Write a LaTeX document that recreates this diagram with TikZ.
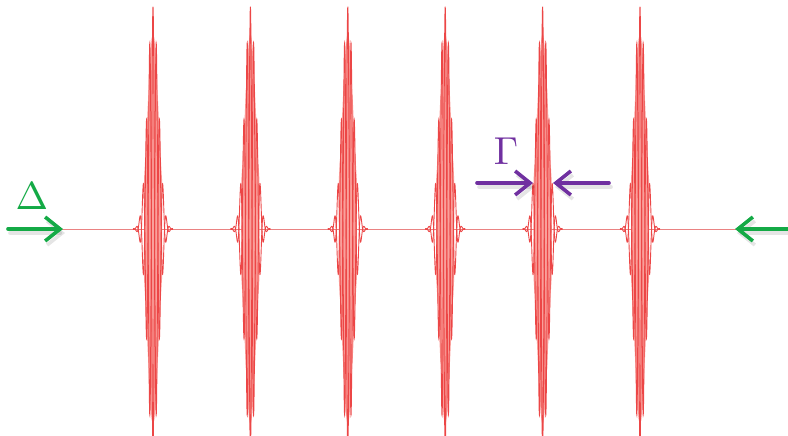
\documentclass[tikz,border=0pt]{standalone}
\usetikzlibrary{arrows.meta}
\definecolor{pulsered}{RGB}{236,70,70}
\definecolor{pulsefill}{RGB}{250,160,155}
\definecolor{basepink}{RGB}{234,130,130}
\definecolor{arrowgreen}{RGB}{20,170,70}
\definecolor{arrowpurple}{RGB}{112,48,160}
\tikzset{
  pulse/.style={draw=pulsered, line width=0.9pt},
  envfill/.style={fill=pulsefill, draw=none},
  baseline/.style={draw=basepink, line width=1pt},
  bigarrow/.style={line width=3.6pt, line cap=round, -{Straight Barb[length=15pt,width=24pt]}},
  shadowarrow/.style={bigarrow, draw=black, opacity=0.1},
  label/.style={inner sep=0pt, scale=3.9}
}
\begin{document}
\begin{tikzpicture}[x=1pt,y=-1pt]
\useasboundingbox (0,0) rectangle (788,436);
% baseline
\coordinate (bl) at (30,229);
\coordinate (br) at (762,229);
\draw[baseline] (bl) -- (br);
% pulses
\foreach \c in {153,250.4,347.8,445.2,542.6,640} {
  \fill[envfill] plot[domain=-9:9, samples=100] ({\c+\x}, {229 - 195*exp(-\x*\x/59.6)})
     -- plot[domain=9:-9, samples=100] ({\c+\x}, {229 + 195*exp(-\x*\x/59.6)}) -- cycle;
  \draw[pulse] plot[domain=-20:20, samples=500] ({\c+\x}, {229 - 222*exp(-\x*\x/59.6)*cos(360*\x/6.6)});
  \draw[pulse] plot[domain=-20:20, samples=500] ({\c+\x}, {229 + 222*exp(-\x*\x/59.6)*cos(360*\x/6.6)});
}
% green arrows
\coordinate (gl0) at (8,229);
\coordinate (gl1) at (63,229);
\coordinate (gr0) at (788,229);
\coordinate (gr1) at (735,229);
\draw[shadowarrow] ([shift={(2,4)}]gl0) -- ([shift={(2,4)}]gl1);
\draw[shadowarrow] ([shift={(2,4)}]gr0) -- ([shift={(2,4)}]gr1);
\draw[bigarrow, draw=arrowgreen] (gl0) -- (gl1);
\draw[bigarrow, draw=arrowgreen] (gr0) -- (gr1);
\node[label, text=arrowgreen] (delta) at (32,196) {$\Delta$};
% purple arrows
\coordinate (pl0) at (477,183);
\coordinate (pl1) at (533,183);
\coordinate (pr0) at (609,183);
\coordinate (pr1) at (553,183);
\draw[shadowarrow] ([shift={(2,4)}]pl0) -- ([shift={(2,4)}]pl1);
\draw[shadowarrow] ([shift={(2,4)}]pr0) -- ([shift={(2,4)}]pr1);
\draw[bigarrow, draw=arrowpurple] (pl0) -- (pl1);
\draw[bigarrow, draw=arrowpurple] (pr0) -- (pr1);
\node[label, text=arrowpurple] (gamma) at (506,151) {$\Gamma$};
\end{tikzpicture}
\end{document}
